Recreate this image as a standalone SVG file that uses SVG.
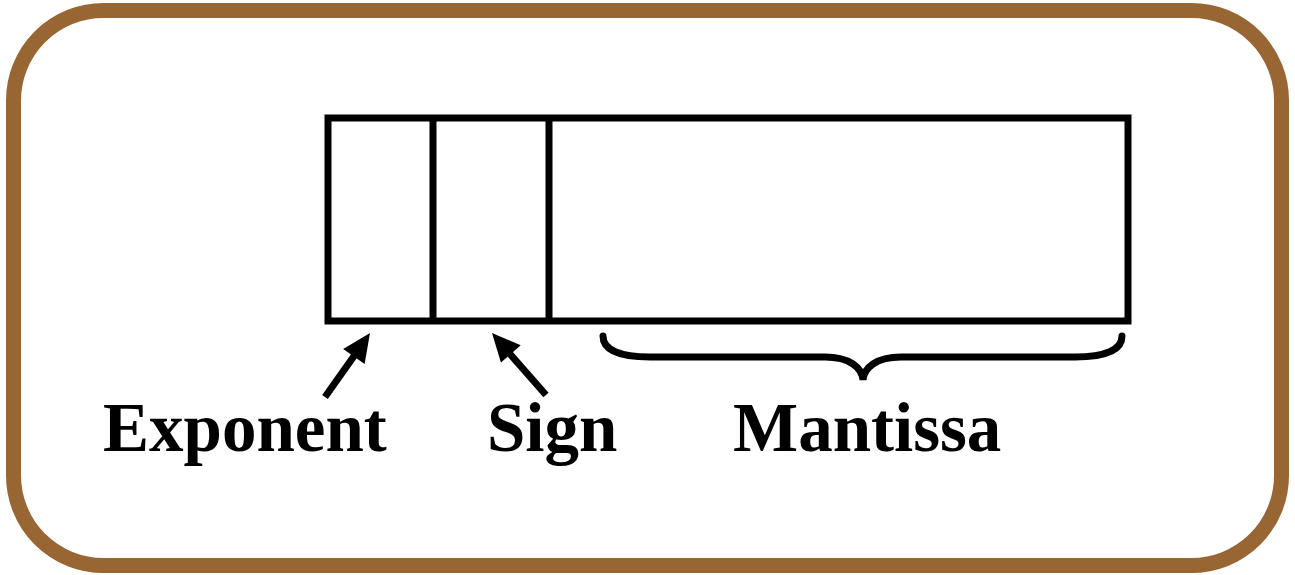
<svg xmlns="http://www.w3.org/2000/svg" width="1295" height="575" viewBox="0 0 1295 575">
<style>
.lbl{font-family:"Liberation Serif","Times New Roman",serif;font-weight:bold;font-size:69px;fill:#000}
.ln{stroke:#000;stroke-width:7;fill:none}
.hd{fill:#000}
</style>
<rect x="13.5" y="10.5" width="1268" height="555" rx="90" ry="90" fill="#fff" stroke="#986633" stroke-width="15"/>
<g id="word">
<rect class="ln" x="328" y="118" width="800" height="203" stroke-linecap="square"/>
<line class="ln" x1="433" y1="118" x2="433" y2="321"/>
<line class="ln" x1="549" y1="118" x2="549" y2="321"/>
</g>
<g id="connectors">
<line class="ln" x1="325" y1="397" x2="354" y2="356"/>
<polygon class="hd" points="370,333 364.6,364.1 343.2,349"/>
<line class="ln" x1="546" y1="395" x2="510" y2="354"/>
<polygon class="hd" points="492,333 520.7,345.3 500.9,362.6"/>
<path class="ln" d="M603,336 C603,350 620,357 650,357 L825,357 C850,357 862,368 863,380 C864,368 876,357 901,357 L1075,357 C1105,357 1122,350 1122,336" stroke-linecap="round"/>
</g>
<g id="exponent"><text class="lbl" x="103" y="451">Exponent</text></g>
<g id="sign"><text class="lbl" x="487" y="451">Sign</text></g>
<g id="mantissa"><text class="lbl" x="733" y="451">Mantissa</text></g>
</svg>
